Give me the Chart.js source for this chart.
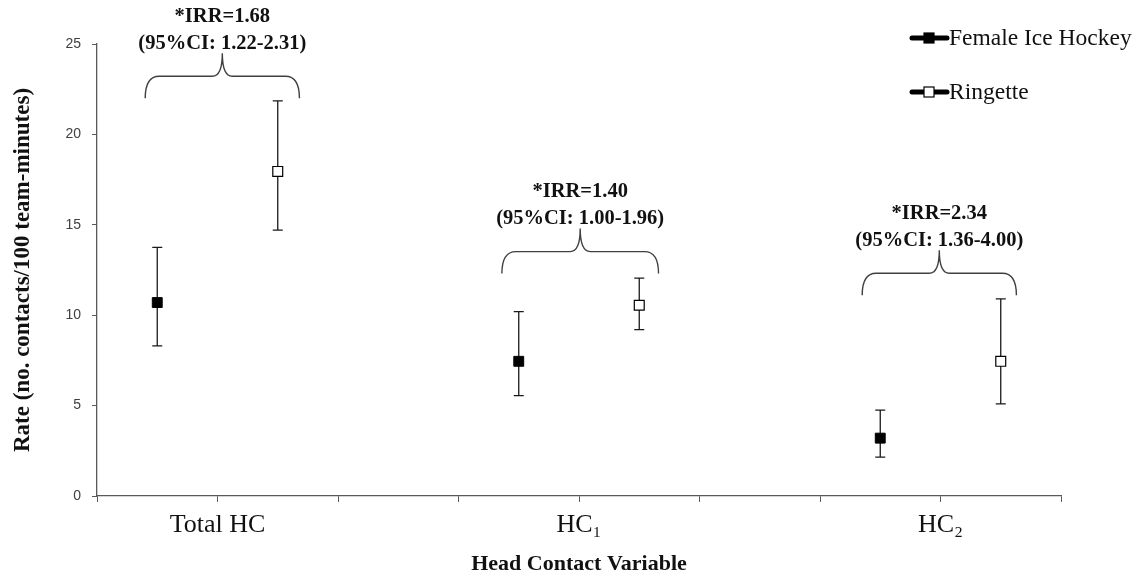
<!DOCTYPE html>
<html>
<head>
<meta charset="utf-8">
<script src="https://cdn.jsdelivr.net/npm/chart.js@4/dist/chart.umd.min.js"></script>
<style>
  html, body { margin: 0; padding: 0; background: #fff; }
  #wrap { width: 1141px; height: 584px; position: relative; }
</style>
</head>
<body>
<div id="wrap"><canvas id="chart"></canvas></div>
<script>
// category tick labels sit on x = 1, 4, 7 of a 0..8 axis
const categoryTicks = { 1: "Total HC", 4: "HC\u2081", 7: "HC\u2082" };

const hockeyX = [0.5, 3.5, 6.5];
const hockeyRate = [10.7, 7.45, 3.2];
const hockeyLow = [8.3, 5.55, 2.15];
const hockeyHigh = [13.75, 10.2, 4.75];

const ringetteX = [1.5, 4.5, 7.5];
const ringetteRate = [17.95, 10.55, 7.45];
const ringetteLow = [14.7, 9.2, 5.1];
const ringetteHigh = [21.85, 12.05, 10.9];

// brace annotations (data units)
const braceLeft = [0.4, 3.36, 6.35];
const braceRight = [1.68, 4.66, 7.63];
const braceBase = [22.0, 12.3, 11.1];
const irrLabels = ["*IRR=1.68", "*IRR=1.40", "*IRR=2.34"];
const ciLabels = ["(95%CI: 1.22-2.31)", "(95%CI: 1.00-1.96)", "(95%CI: 1.36-4.00)"];

const serif = "'Liberation Serif', 'Times New Roman', serif";

const toPoints = (xs, ys) => xs.map((x, i) => ({ x, y: ys[i] }));

const errorBars = {
  id: "errorBars",
  beforeDatasetsDraw(chart) {
    const { ctx, scales: { x, y } } = chart;
    const sets = [[hockeyX, hockeyLow, hockeyHigh], [ringetteX, ringetteLow, ringetteHigh]];
    ctx.save();
    ctx.strokeStyle = "#1a1a1a";
    ctx.lineWidth = 1.3;
    sets.forEach(([xs, lows, highs]) => {
      xs.forEach((v, i) => {
        const px = x.getPixelForValue(v);
        const top = y.getPixelForValue(highs[i]);
        const bot = y.getPixelForValue(lows[i]);
        ctx.beginPath();
        ctx.moveTo(px, top); ctx.lineTo(px, bot);
        ctx.moveTo(px - 5, top); ctx.lineTo(px + 5, top);
        ctx.moveTo(px - 5, bot); ctx.lineTo(px + 5, bot);
        ctx.stroke();
      });
    });
    ctx.restore();
  }
};

const braces = {
  id: "braces",
  afterDraw(chart) {
    const { ctx, scales: { x, y } } = chart;
    ctx.save();
    braceLeft.forEach((l, i) => {
      const xl = x.getPixelForValue(l);
      const xr = x.getPixelForValue(braceRight[i]);
      const xm = (xl + xr) / 2;
      const yb = y.getPixelForValue(braceBase[i]);
      const yh = yb - 22;
      const yt = yh - 23;

      ctx.strokeStyle = "#404040";
      ctx.lineWidth = 1.4;
      ctx.beginPath();
      ctx.moveTo(xl, yb);
      ctx.quadraticCurveTo(xl, yh, xl + 14, yh);
      ctx.lineTo(xm - 10, yh);
      ctx.quadraticCurveTo(xm, yh, xm, yt);
      ctx.quadraticCurveTo(xm, yh, xm + 10, yh);
      ctx.lineTo(xr - 14, yh);
      ctx.quadraticCurveTo(xr, yh, xr, yb);
      ctx.stroke();

      ctx.fillStyle = "#111";
      ctx.font = "bold 20.5px " + serif;
      ctx.textAlign = "center";
      ctx.textBaseline = "middle";
      ctx.fillText(irrLabels[i], xm, yt - 37);
      ctx.fillText(ciLabels[i], xm, yt - 10);
    });

    // legend
    chart.data.datasets.forEach((ds, i) => {
      const cy = 38 + i * 54;
      ctx.strokeStyle = "#000";
      ctx.lineWidth = 5;
      ctx.lineCap = "round";
      ctx.beginPath();
      ctx.moveTo(912, cy); ctx.lineTo(947, cy);
      ctx.stroke();
      ctx.lineWidth = 1.2;
      ctx.fillStyle = ds.pointBackgroundColor;
      ctx.fillRect(924, cy - 5, 10, 10);
      ctx.strokeRect(924, cy - 5, 10, 10);
      ctx.fillStyle = "#111";
      ctx.font = "23.5px " + serif;
      ctx.textAlign = "left";
      ctx.textBaseline = "middle";
      ctx.fillText(ds.label, 949, cy + 1);
    });
    ctx.restore();
  }
};

new Chart(document.getElementById("chart"), {
  type: "scatter",
  data: {
    datasets: [
      {
        label: "Female Ice Hockey",
        data: toPoints(hockeyX, hockeyRate),
        pointStyle: "rect",
        pointRadius: 7,
        pointBackgroundColor: "#000",
        pointBorderColor: "#000",
        pointBorderWidth: 1,
        showLine: false
      },
      {
        label: "Ringette",
        data: toPoints(ringetteX, ringetteRate),
        pointStyle: "rect",
        pointRadius: 7,
        pointBackgroundColor: "#fff",
        pointBorderColor: "#000",
        pointBorderWidth: 1.2,
        showLine: false
      }
    ]
  },
  options: {
    responsive: true,
    maintainAspectRatio: false,
    animation: false,
    layout: { padding: { left: 0, top: 44, right: 80, bottom: 0 } },
    plugins: { legend: { display: false }, tooltip: { enabled: false } },
    scales: {
      x: {
        type: "linear",
        min: 0,
        max: 8,
        afterFit(scale) { scale.height = 88; },
        afterBuildTicks(scale) {
          scale.ticks = [0, 1, 2, 3, 4, 5, 6, 7, 8].map((v) => ({ value: v }));
        },
        ticks: {
          autoSkip: false,
          maxRotation: 0,
          padding: 8,
          color: "#111",
          font: { family: serif, size: 26 },
          callback: (v) => categoryTicks[v] || ""
        },
        grid: { drawOnChartArea: false, tickLength: 6, color: "#595959" },
        border: { color: "#595959", width: 1.3 },
        title: {
          display: true,
          text: "Head Contact Variable",
          color: "#111",
          font: { family: serif, size: 22, weight: "bold" },
          padding: { top: 0, bottom: 6 }
        }
      },
      y: {
        min: 0,
        max: 25,
        afterFit(scale) { scale.width = 97; },
        ticks: {
          stepSize: 5,
          padding: 11,
          color: "#404040",
          font: { family: "'Liberation Sans', Arial, sans-serif", size: 14 }
        },
        grid: { drawOnChartArea: false, tickLength: 5, color: "#595959" },
        border: { color: "#595959", width: 1.3 },
        title: {
          display: true,
          text: "Rate (no. contacts/100 team-minutes)",
          color: "#111",
          font: { family: serif, size: 23, weight: "bold" },
          padding: { top: 9, bottom: 0 }
        }
      }
    }
  },
  plugins: [errorBars, braces]
});
</script>
</body>
</html>
